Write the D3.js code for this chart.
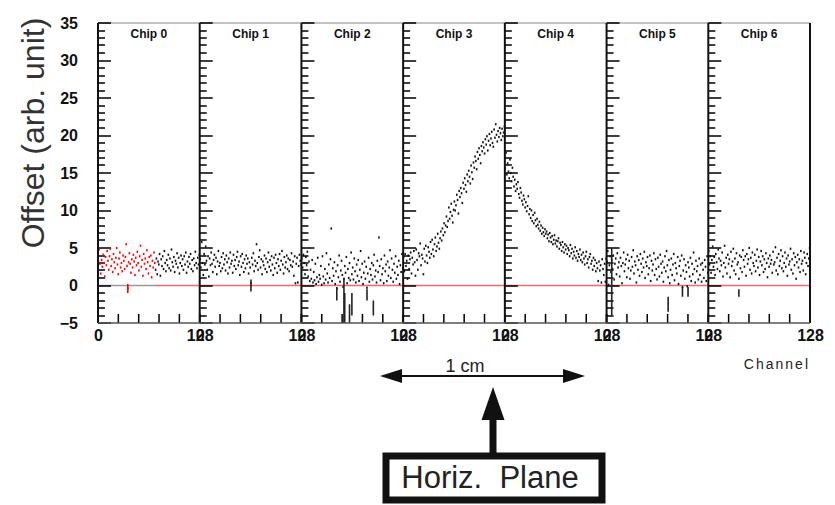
<!DOCTYPE html>
<html lang="en">
<head>
<meta charset="UTF-8">
<script src="https://cdn.jsdelivr.net/npm/d3@7"></script>
<title>Offset per channel</title>
<style>
  html,body{margin:0;background:#fff;}
  svg{display:block;font-family:"Liberation Sans",Arial,sans-serif;}
</style>
</head>
<body>
<svg id="chart" width="835" height="505"></svg>
<script>
// chips and axis ticks
var chips = ["Chip 0","Chip 1","Chip 2","Chip 3","Chip 4","Chip 5","Chip 6"];
var yTicks = [-5,0,5,10,15,20,25,30,35];
var yMinor = d3.range(-5, 36, 1);
var xTicks = [0,25.6,51.2,76.8,102.4,128];
var redUntil = 72;   // chip 0 channels drawn red

// offset per channel (128 values per chip)
var chip0 = [3.2,4.8,2.9,1.6,3.4,2.5,4.1,3.0,1.2,3.8,2.7,4.6,3.3,2.1,3.9,4.9,
  2.6,3.5,1.8,4.2,3.1,2.3,3.7,5.0,2.8,1.5,3.6,4.4,2.4,3.0,1.9,4.0,
  3.3,2.2,3.8,5.5,2.6,-0.4,3.1,4.3,2.9,1.7,3.5,2.4,4.1,3.2,1.4,3.7,
  2.7,4.5,3.0,2.0,3.9,5.3,2.5,3.4,1.3,4.2,2.9,3.6,2.2,4.7,3.1,1.6,
  3.8,2.6,4.0,1.1,3.3,2.4,4.4,3.0,2.1,3.6,1.5,3.2,2.8,4.2,1.3,3.5,
  2.6,3.9,2.2,4.6,3.0,1.9,3.4,2.7,4.1,2.3,3.6,2.0,4.8,3.1,2.5,3.8,
  1.8,3.3,2.9,4.3,2.4,3.7,1.6,3.0,4.0,2.6,3.5,2.1,3.9,2.8,4.4,1.7,
  3.2,2.5,3.8,2.9,4.2,2.2,3.4,1.9,3.6,2.7,4.5,3.0,2.3,3.7,2.8,4.1];
var chip1 = [3.5,2.4,5.8,3.0,1.4,4.2,2.8,5.2,3.3,2.1,3.9,1.2,3.6,2.7,4.4,2.9,
  1.8,3.4,4.1,2.5,3.7,1.5,3.2,4.6,2.6,3.0,1.9,3.8,2.3,4.3,2.8,3.5,
  2.0,4.0,3.1,1.6,3.6,2.4,4.4,2.9,3.3,1.7,4.1,2.6,3.4,2.2,3.8,4.5,
  2.7,3.2,1.4,3.9,2.5,4.2,3.0,1.8,3.5,2.3,4.0,2.9,3.6,1.6,3.1,2.4,
  0.3,3.7,2.8,4.3,1.9,3.3,2.6,5.5,3.0,2.1,3.8,4.7,2.4,3.5,1.5,3.2,
  2.7,4.0,2.2,3.6,1.8,3.1,4.4,2.5,3.4,2.0,3.9,2.8,1.4,3.7,2.3,4.1,
  3.0,1.7,3.5,2.6,4.2,2.1,3.3,4.6,2.8,1.6,3.8,2.4,3.1,4.0,2.2,3.6,
  1.9,3.4,2.7,4.3,2.5,3.2,1.3,3.9,0.3,2.9,3.7,0.4,2.6,4.1,3.3,2.8];
var chip2 = [3.6,2.4,4.1,3.0,1.5,3.8,2.7,4.5,1.2,3.2,0.6,2.1,0.9,3.4,0.4,1.8,
  0.7,2.9,0.2,1.1,3.7,0.5,1.4,0.9,2.6,0.1,3.9,1.2,0.3,2.2,0.8,4.3,
  1.6,0.4,2.8,1.0,3.5,7.6,0.6,2.3,1.3,3.1,0.2,1.9,-0.4,2.7,1.1,4.0,
  0.5,2.0,3.3,1.4,-0.2,0.9,2.6,1.7,3.8,0.3,2.2,1.0,3.0,0.7,4.4,1.5,
  2.4,0.8,3.6,1.9,0.4,2.8,1.3,3.4,0.6,2.1,4.6,1.1,2.9,0.2,1.7,3.2,
  0.9,2.5,-0.3,1.6,3.7,0.5,2.2,1.4,3.0,0.8,2.7,4.1,1.2,2.0,0.4,3.3,
  1.8,6.4,2.6,0.7,3.5,1.5,2.3,0.3,4.0,1.9,2.8,0.6,3.2,1.3,2.4,4.7,
  1.0,3.6,2.1,0.5,2.9,1.7,3.9,0.9,2.5,1.4,3.3,0.2,2.7,1.8,4.2,2.3];
var chip3 = [3.8,1.9,4.2,2.6,3.3,0.9,4.0,2.2,3.5,4.4,1.6,3.7,2.8,4.6,3.1,1.3,
  4.8,3.4,2.1,4.3,3.9,5.6,2.7,4.1,3.6,1.5,4.9,3.2,5.3,4.0,3.0,5.1,
  4.5,3.7,5.8,4.2,6.1,4.8,3.9,5.5,6.4,4.6,5.2,6.9,5.7,4.9,6.3,7.2,
  6.0,7.6,6.7,8.3,7.1,8.0,9.2,7.8,8.6,10.4,8.9,9.8,10.9,9.3,8.4,10.1,
  11.2,10.0,10.7,12.1,11.4,9.6,12.6,11.8,13.0,12.3,11.0,13.7,12.9,14.3,13.4,12.5,
  14.8,13.9,15.3,14.5,13.6,16.0,15.1,14.2,16.4,15.7,17.2,16.6,15.5,17.8,16.9,18.3,
  17.4,16.3,18.6,17.9,19.1,18.4,17.6,19.5,18.8,19.9,18.0,19.3,20.2,18.7,19.6,20.5,
  19.0,18.5,20.8,19.7,21.5,20.1,19.2,20.6,19.8,21.0,20.3,19.4,20.9,19.9,20.4,21.2];
var chip4 = [15.6,17.7,14.8,16.3,15.2,14.3,16.8,15.0,13.9,15.7,14.5,13.2,14.1,12.6,13.5,12.9,
  13.8,12.2,11.7,13.0,12.4,11.3,10.8,12.0,11.5,10.4,11.1,9.9,10.6,11.9,9.5,10.2,
  9.0,10.0,8.6,9.4,8.3,9.7,8.7,7.9,8.9,8.1,7.6,8.5,7.3,8.0,6.9,7.7,
  7.1,6.6,7.5,6.9,7.2,6.3,6.8,5.9,7.0,6.4,5.8,6.6,5.5,6.1,6.7,5.6,
  6.0,5.2,5.9,6.3,4.9,5.7,5.4,4.6,5.8,5.1,4.4,5.5,4.8,5.3,4.2,5.0,
  4.7,3.9,5.4,4.3,4.9,3.6,4.5,4.0,5.1,3.7,4.6,3.3,4.2,3.8,4.8,3.4,
  4.1,3.1,4.4,3.6,2.8,3.9,4.5,3.0,3.5,2.4,3.8,4.2,2.9,3.3,2.1,3.7,
  2.6,3.4,1.9,3.0,2.3,0.6,3.2,2.0,2.7,0.4,3.5,2.2,1.4,2.9,0.5,3.6];
var chip5 = [3.2,4.6,0.1,2.7,3.9,1.8,3.4,2.2,4.0,0.8,2.9,3.6,1.5,4.3,2.4,3.1,
  1.2,3.7,2.6,0.3,3.0,4.4,1.9,2.8,3.5,1.1,4.1,2.3,3.3,0.9,2.0,3.8,
  2.5,4.7,1.6,3.2,2.7,0.4,3.9,2.1,3.4,1.3,4.2,2.9,1.8,3.6,2.4,4.5,
  1.0,3.1,2.6,3.8,1.5,2.3,4.0,0.6,3.3,2.0,2.8,4.3,1.4,3.5,2.2,0.8,
  3.7,2.5,1.2,4.1,2.9,1.7,3.2,0.5,2.4,3.9,1.9,4.6,2.7,1.1,3.4,0.3,
  2.1,3.6,1.4,2.8,4.2,0.7,3.0,2.3,1.6,3.8,0.2,2.6,3.3,1.3,4.0,-0.2,
  2.0,3.5,0.9,2.7,1.8,-0.1,3.1,2.4,1.2,3.7,0.6,2.9,1.5,4.4,2.2,0.4,
  3.3,1.9,2.6,0.8,3.6,1.4,2.8,0.5,3.0,2.1,1.0,3.4,2.5,0.6,3.9,1.7];
var chip6 = [4.6,2.8,3.9,1.7,3.4,5.2,2.5,3.8,1.4,4.2,3.1,2.2,4.8,3.6,1.9,3.3,
  2.7,4.4,1.2,3.0,5.3,2.4,3.7,1.6,4.1,2.9,3.5,1.1,4.5,2.6,3.2,4.9,
  2.0,3.6,1.5,4.3,2.8,3.1,0.9,4.0,2.3,3.8,1.8,4.7,3.4,2.5,3.9,1.3,
  4.2,2.9,3.5,5.0,2.1,3.7,1.6,4.4,3.0,2.6,4.1,1.9,3.3,4.8,2.4,3.8,
  1.4,3.2,4.6,2.7,3.9,1.8,3.5,2.2,4.3,3.0,1.1,3.6,2.5,4.0,2.9,3.4,
  1.7,4.5,2.8,3.1,5.1,2.0,3.7,1.5,4.2,2.6,3.3,4.7,2.3,3.9,1.9,3.0,
  4.4,2.5,3.6,1.3,4.0,2.8,3.2,4.9,2.1,3.5,1.6,4.3,2.7,3.8,0.9,3.1,
  4.1,2.4,3.5,1.8,4.6,2.9,3.3,2.0,4.4,3.7,1.5,3.0,4.2,2.6,3.6,5.0];
// vertical streaks: [chip, channel, low, high]
var streaks = [[0,37,-1.0,0.2],[1,64,-0.8,0.8],[2,44,-2.0,-0.2],[2,53,-5,1.0],[2,54,-5,-1],
  [2,60,-5,-2.5],[2,63,-4,-1],[2,82,-2,-0.5],[2,90,-4,-2],[5,6,-4,5],[5,77,-3.5,-1.5],
  [5,95,-1.5,-0.2],[5,102,-1.5,-0.2],[6,38,-1.5,-0.5]];

var offsets = [chip0,chip1,chip2,chip3,chip4,chip5,chip6];

var svg = d3.select("#chart"),
    pLeft = 98, pRight = 810, pTop = 23, pBottom = 323;

var band = d3.scaleBand().domain(d3.range(chips.length)).range([pLeft, pRight]).paddingInner(0).paddingOuter(0);
var w = band.bandwidth();
var y = d3.scaleLinear().domain([-5, 35]).range([pBottom, pTop]);
var xc = d3.scaleLinear().domain([0, 128]).range([0, w]);

// top frame
svg.append("line").attr("x1", pLeft).attr("x2", pRight).attr("y1", pTop).attr("y2", pTop)
  .attr("stroke", "#888").attr("stroke-width", 1.2);

// zero line
svg.append("line").attr("x1", pLeft).attr("x2", band(0) + xc(redUntil)).attr("y1", y(0)).attr("y2", y(0))
  .attr("stroke", "#999").attr("stroke-width", 1.4);
svg.append("line").attr("x1", band(0) + xc(redUntil)).attr("x2", pRight).attr("y1", y(0)).attr("y2", y(0))
  .attr("stroke", "#f26a6a").attr("stroke-width", 1.4);

var panels = svg.selectAll("g.panel").data(chips).enter().append("g")
  .attr("class", "panel")
  .attr("transform", function(d, i) { return "translate(" + band(i) + ",0)"; });

panels.each(function(d, i) {
  var g = d3.select(this);

  // y ticks on the panel's left edge, pointing inward (drawn as thin rects)
  g.selectAll("rect.ytick").data(yMinor).enter().append("rect")
    .attr("class", "ytick")
    .attr("x", 0)
    .attr("y", function(v) { return Math.round(y(v)) - 0.75; })
    .attr("width", function(v) { return yTicks.indexOf(v) >= 0 ? 13 : 7; })
    .attr("height", 1.5)
    .attr("fill", "#000");

  // x ticks along the bottom, pointing up
  g.selectAll("rect.xtick").data(xTicks).enter().append("rect")
    .attr("class", "xtick")
    .attr("x", function(v) { return xc(v) - 0.75; })
    .attr("y", pBottom - 9)
    .attr("width", 1.5).attr("height", 9)
    .attr("fill", "#000");

  // points
  g.selectAll("rect.pt").data(offsets[i]).enter().append("rect")
    .attr("class", "pt")
    .attr("x", function(v, ch) { return xc(ch + 0.5) - 0.8; })
    .attr("y", function(v) { return y(v) - 1.1; })
    .attr("width", 1.6).attr("height", 2.2)
    .attr("fill", function(v, ch) { return (i === 0 && ch < redUntil) ? "#f00" : "#111"; });
  g.selectAll("line.streak").data(streaks.filter(function(s) { return s[0] === i; })).enter().append("line")
    .attr("class", "streak")
    .attr("x1", function(s) { return xc(s[1] + 0.5); })
    .attr("x2", function(s) { return xc(s[1] + 0.5); })
    .attr("y1", function(s) { return y(s[2]); })
    .attr("y2", function(s) { return y(s[3]); })
    .attr("stroke", function(s) { return i === 0 ? "#f00" : "#222"; })
    .attr("stroke-width", 1.6);
});

// x labels 0 / 128
panels.append("g").attr("class", "xl")
  .attr("transform", "translate(0," + pBottom + ")")
  .call(d3.axisBottom(xc).tickValues([0, 128]).tickSize(0).tickPadding(7).tickFormat(d3.format("d")));
svg.selectAll(".xl .domain").remove();
svg.selectAll(".xl text").attr("font-size", 16).attr("font-weight", "bold").attr("fill", "#111")
  .attr("font-family", "Liberation Sans, Arial, sans-serif");

// panel separators
panels.append("line").attr("x1", 0).attr("x2", 0).attr("y1", pTop).attr("y2", pBottom)
  .attr("stroke", "#111").attr("stroke-width", 2);
svg.append("line").attr("x1", pRight).attr("x2", pRight).attr("y1", pTop).attr("y2", pBottom)
  .attr("stroke", "#111").attr("stroke-width", 2);
svg.append("line").attr("x1", pLeft).attr("x2", pRight).attr("y1", pBottom).attr("y2", pBottom)
  .attr("stroke", "#555").attr("stroke-width", 1.3);

// chip titles
panels.append("text").attr("x", w / 2).attr("y", 38).attr("text-anchor", "middle")
  .attr("font-size", 12).attr("font-weight", "bold").attr("fill", "#111")
  .text(function(d) { return d; });

// y labels
var ya = svg.append("g").attr("transform", "translate(" + pLeft + ",0)")
  .call(d3.axisLeft(y).tickValues(yTicks).tickSize(0).tickPadding(20));
ya.select(".domain").remove();
ya.selectAll("text").attr("font-size", 16).attr("font-weight", "bold").attr("fill", "#111")
  .attr("font-family", "Liberation Sans, Arial, sans-serif");

svg.append("text").attr("transform", "translate(44,133) rotate(-90)")
  .attr("text-anchor", "middle").attr("font-size", 32).attr("fill", "#333")
  .text("Offset (arb. unit)");

svg.append("text").attr("x", pRight).attr("y", 369).attr("text-anchor", "end")
  .attr("font-size", 14).attr("letter-spacing", 2).attr("fill", "#222")
  .text("Channel");

// 1 cm scale arrow
var ax0 = 380, ax1 = 585, ay = 376;
svg.append("line").attr("x1", ax0 + 10).attr("x2", ax1 - 10).attr("y1", ay).attr("y2", ay)
  .attr("stroke", "#111").attr("stroke-width", 1.8);
svg.append("path").attr("d", "M" + ax0 + "," + ay + "L" + (ax0 + 22) + "," + (ay - 7) + "L" + (ax0 + 22) + "," + (ay + 7) + "Z").attr("fill", "#111");
svg.append("path").attr("d", "M" + ax1 + "," + ay + "L" + (ax1 - 22) + "," + (ay - 7) + "L" + (ax1 - 22) + "," + (ay + 7) + "Z").attr("fill", "#111");
svg.append("text").attr("x", 465).attr("y", 372).attr("text-anchor", "middle")
  .attr("font-size", 18).attr("fill", "#222").text("1 cm");

// pointer arrow + box
svg.append("rect").attr("x", 489.5).attr("y", 418).attr("width", 7).attr("height", 36).attr("fill", "#111");
svg.append("path").attr("d", "M493,387L504.5,420L481.5,420Z").attr("fill", "#111");
svg.append("rect").attr("x", 386).attr("y", 456).attr("width", 216).attr("height", 44)
  .attr("fill", "#fff").attr("stroke", "#111").attr("stroke-width", 7);
svg.append("text").attr("x", 490).attr("y", 488).attr("text-anchor", "middle")
  .attr("font-size", 31).attr("fill", "#222").attr("xml:space", "preserve").text("Horiz.  Plane");
</script>
</body>
</html>
